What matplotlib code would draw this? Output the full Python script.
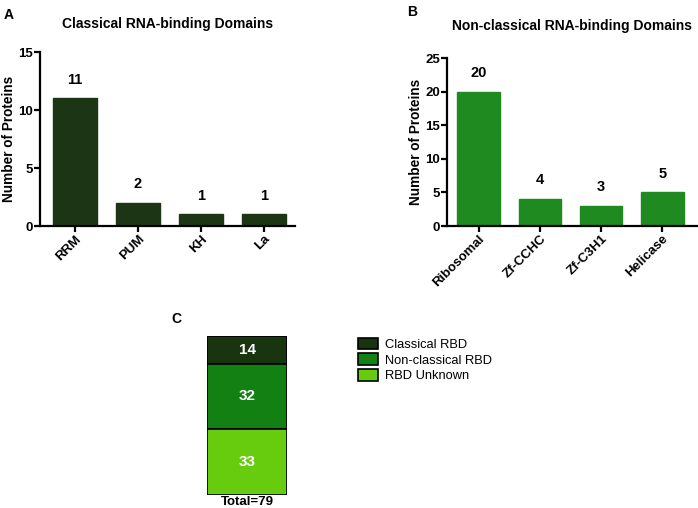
import matplotlib.pyplot as plt

plt.rcParams['font.family'] = ['Liberation Sans', 'DejaVu Sans']
plt.rcParams['font.weight'] = 'bold'

# Panel A data
classical_domains = ["RRM", "PUM", "KH", "La"]
classical_counts = [11, 2, 1, 1]

# Panel B data
nonclassical_domains = ["Ribosomal", "Zf-CCHC", "Zf-C3H1", "Helicase"]
nonclassical_counts = [20, 4, 3, 5]

# Panel C data
rbd_groups = ["Classical RBD", "Non-classical RBD", "RBD Unknown"]
rbd_counts = [14, 32, 33]

dark_green = '#1b3515'
mid_green = '#1f8a1f'
c_colors = ['#183510', '#138013', '#66cc0d']

fig = plt.figure(figsize=(6.98, 5.08), dpi=100)


def style_axes(ax):
    ax.spines['top'].set_visible(False)
    ax.spines['right'].set_visible(False)
    for s in ['left', 'bottom']:
        ax.spines[s].set_linewidth(1.6)
    ax.tick_params(width=1.6, length=4, labelsize=9.5, pad=1)
    for lab in ax.get_yticklabels():
        lab.set_fontweight('bold')


def bar_panel(ax, names, counts, color, ymax, step, title, tpad):
    xs = range(len(names))
    ax.bar(xs, counts, width=0.7, color=color, edgecolor=color)
    for x, c in zip(xs, counts):
        ax.annotate(str(c), (x, c), xytext=(0, 13.5), textcoords='offset points',
                    ha='center', va='center', fontsize=10.5, fontweight='bold')
    ax.set_ylim(0, ymax)
    ax.set_yticks(range(0, ymax + 1, step))
    ax.set_xticks(list(xs))
    ax.set_xticklabels(names, rotation=45, ha='right', rotation_mode='anchor',
                       fontsize=9, fontweight='bold')
    ax.set_ylabel("Number of Proteins", fontsize=9.8, fontweight='bold', labelpad=2)
    style_axes(ax)
    ax.set_title(title, fontsize=10, fontweight='bold', pad=tpad)


# Panel A
axA = fig.add_axes([0.0573, 0.5551, 0.3653, 0.3425])
bar_panel(axA, classical_domains, classical_counts, dark_green, 15, 5,
          "Classical RNA-binding Domains", 17)
axA.set_xlim(-0.556, 3.49)

# Panel B
axB = fig.add_axes([0.6404, 0.5551, 0.3582, 0.3307])
bar_panel(axB, nonclassical_domains, nonclassical_counts, mid_green, 25, 5,
          "Non-classical RNA-binding Domains", 20)
axB.set_xlim(-0.52, 3.57)

# Panel C - stacked bar
axC = fig.add_axes([0.2966, 0.0256, 0.1146, 0.313])
top = sum(rbd_counts)
handles = []
for name, cnt, col in zip(rbd_groups, rbd_counts, c_colors):
    bottom = top - cnt
    h = axC.bar(0, cnt, bottom=bottom, width=1.0, color=col, edgecolor='black',
                linewidth=1.2, label=name)
    handles.append(h)
    axC.text(0, bottom + cnt / 2, str(cnt), ha='center', va='center',
             color='white', fontsize=11, fontweight='bold')
    top = bottom
axC.set_xlim(-0.5, 0.5)
axC.set_ylim(0, sum(rbd_counts))
axC.axis('off')
axC.annotate("Total=" + str(sum(rbd_counts)), (0, 0), xytext=(0, -1),
             textcoords='offset points', ha='center', va='top',
             fontsize=9.5, fontweight='bold')

fig.legend(handles=handles, labels=rbd_groups, loc='upper left',
           bbox_to_anchor=(0.504, 0.348), frameon=False,
           prop={'weight': 'normal', 'size': 9.3}, handlelength=1.5,
           handleheight=1.0, labelspacing=0.2, handletextpad=0.55, borderpad=0.0)

# panel letters
fig.text(0.005, 0.985, "A", fontsize=10, fontweight='bold', va='top')
fig.text(0.583, 0.99, "B", fontsize=10, fontweight='bold', va='top')
fig.text(0.246, 0.385, "C", fontsize=10, fontweight='bold', va='top')

fig.savefig("out.png", dpi=100)
